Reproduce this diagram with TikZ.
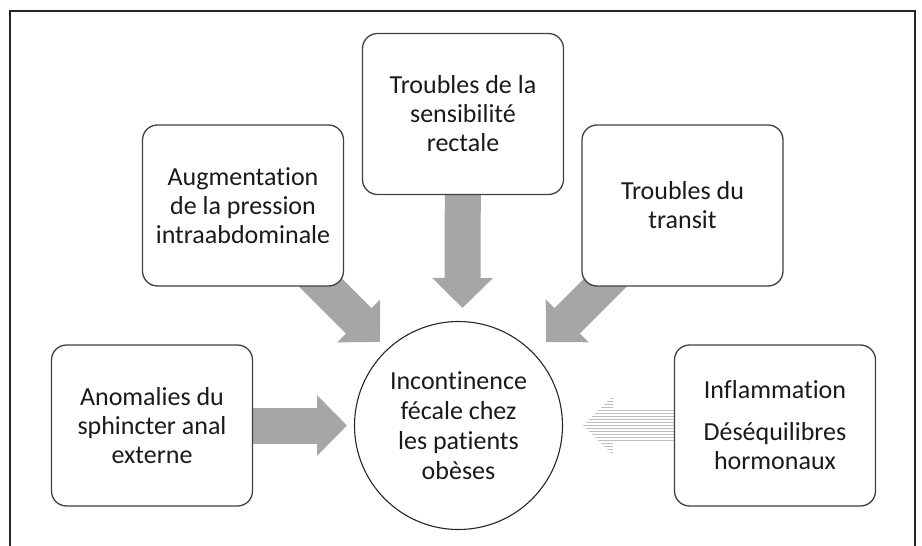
\documentclass[tikz,border=0pt]{standalone}
\usepackage{fontspec}
\setmainfont{Carlito}[Ligatures=NoCommon]
\usetikzlibrary{arrows.meta,backgrounds,patterns,calc}
\definecolor{arrowgray}{HTML}{A6A6A6}
\definecolor{boxline}{HTML}{404040}
\definecolor{txt}{HTML}{1A1A1A}
\begin{document}
\begin{tikzpicture}[x=1pt,y=-1pt,
  box/.style={draw=boxline, line width=1.3pt, rounded corners=15pt, fill=white,
    minimum width=201pt, minimum height=161pt, align=center, text=txt,
    font=\fontsize{26pt}{29pt}\selectfont, inner sep=0pt},
  hub/.style={circle, draw=black!85, line width=1.1pt, fill=white,
    minimum size=208pt, align=center, text=txt,
    font=\fontsize{26pt}{30pt}\selectfont, inner sep=0pt},
  blk/.style={line width=36pt, draw=arrowgray,
    -{Triangle[length=30pt,width=59pt]}},
  hatched/.style={pattern=horizontal lines, pattern color=gray!50},
  framestyle/.style={draw=black!85, line width=1.2pt}]
\useasboundingbox (0,0) rectangle (922,546);
\draw[framestyle] (10,546) -- (10,11) -- (915,11) -- (915,546);

\node[box] (tl) at (243,205.5) {Augmentation\\de la pression\\intraabdominale};
\node[box] (tc) at (463,114) {Troubles de la\\sensibilité\\rectale};
\node[box] (tr) at (682.5,205.5) {Troubles du\\transit};
\node[box] (lb) at (152,425.5) {Anomalies du\\sphincter anal\\externe};
\node[box] (rb) at (775,425.5) {Inflammation\\[13pt]Déséquilibres\\hormonaux};
\node[hub] (c) at (458.5,425.5) {Incontinence\\fécale chez\\les patients\\obèses};

\coordinate (t1) at (380,342);
\coordinate (t2) at (462.5,308);
\coordinate (t3) at (546,342);
\coordinate (t4) at (347,425.5);
\coordinate (t5) at (583,425.5);

\begin{scope}[on background layer]
  \draw[blk] (tl.center) -- (t1);
  \draw[blk] (tc.center) -- (t2);
  \draw[blk] (tr.center) -- (t3);
  \draw[blk] (lb.center) -- (t4);
  \path[hatched] (t5) -- ($(t5)+(30,-29.5)$) -- ($(t5)+(30,-17)$)
    -- ($(rb.west)+(2,-17)$) -- ($(rb.west)+(2,17)$)
    -- ($(t5)+(30,17)$) -- ($(t5)+(30,29.5)$) -- cycle;
\end{scope}
\end{tikzpicture}
\end{document}
